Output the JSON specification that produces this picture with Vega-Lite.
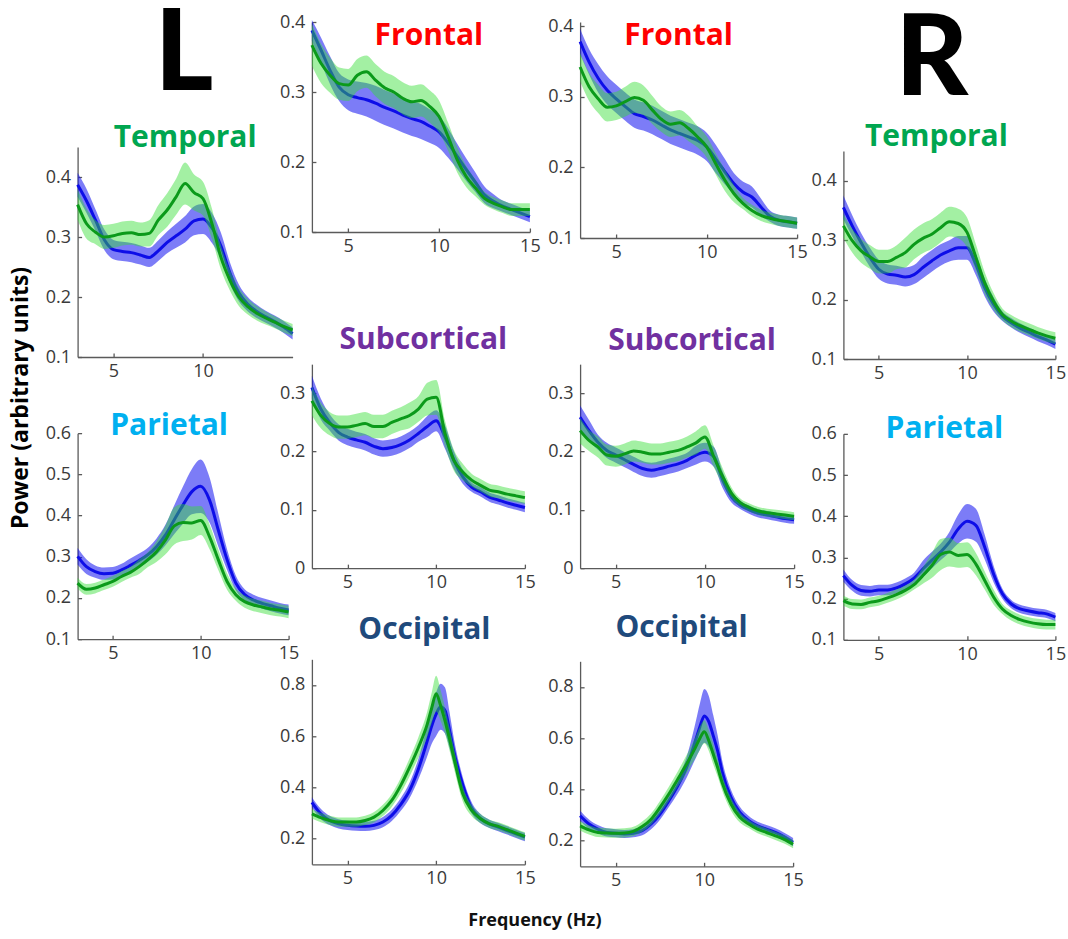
{
"$schema":"https://vega.github.io/schema/vega-lite/v6.json",
"background":"white",
"padding":{"left":6.1,"top":0,"right":0,"bottom":5},
"autosize":{"type":"pad"},
"title":{"text":"Frequency (Hz)","orient":"bottom","anchor":"middle","frame":"bounds","font":"Open Sans","fontSize":18,"fontWeight":"bold","color":"#111111","offset":36,"dx":-1,"baseline":"alphabetic"},
"config":{
 "view":{"stroke":null},
 "axis":{"grid":false,"domainColor":"#5a5a5a","domainWidth":1.3,"tickColor":"#5a5a5a","tickWidth":1.3,"tickSize":-4,"labelFont":"Open Sans","labelFontSize":18,"labelColor":"#3a3a3a"},
 "axisX":{"labelPadding":9.6},
 "axisY":{"labelPadding":11},
 "area":{"interpolate":"monotone"},
 "line":{"interpolate":"monotone","strokeWidth":3},
 "title":{"font":"Open Sans","fontSize":30,"fontWeight":"bold","anchor":"middle","frame":"group","baseline":"alphabetic"}
},
"datasets":{"d":[
{"p":"TL","g":"b","f":3,"m":0.387,"lo":0.367,"hi":0.407},
{"p":"TL","g":"b","f":3.5,"m":0.360,"lo":0.340,"hi":0.380},
{"p":"TL","g":"b","f":4,"m":0.328,"lo":0.310,"hi":0.346},
{"p":"TL","g":"b","f":4.5,"m":0.295,"lo":0.278,"hi":0.312},
{"p":"TL","g":"b","f":5,"m":0.279,"lo":0.263,"hi":0.295},
{"p":"TL","g":"b","f":5.5,"m":0.276,"lo":0.260,"hi":0.292},
{"p":"TL","g":"b","f":6,"m":0.274,"lo":0.258,"hi":0.290},
{"p":"TL","g":"b","f":6.5,"m":0.270,"lo":0.254,"hi":0.286},
{"p":"TL","g":"b","f":7,"m":0.266,"lo":0.250,"hi":0.282},
{"p":"TL","g":"b","f":7.5,"m":0.277,"lo":0.260,"hi":0.294},
{"p":"TL","g":"b","f":8,"m":0.291,"lo":0.273,"hi":0.309},
{"p":"TL","g":"b","f":8.5,"m":0.302,"lo":0.282,"hi":0.322},
{"p":"TL","g":"b","f":9,"m":0.313,"lo":0.291,"hi":0.335},
{"p":"TL","g":"b","f":9.5,"m":0.327,"lo":0.303,"hi":0.351},
{"p":"TL","g":"b","f":10,"m":0.330,"lo":0.305,"hi":0.355},
{"p":"TL","g":"b","f":10.5,"m":0.315,"lo":0.290,"hi":0.340},
{"p":"TL","g":"b","f":11,"m":0.285,"lo":0.263,"hi":0.307},
{"p":"TL","g":"b","f":11.5,"m":0.240,"lo":0.222,"hi":0.258},
{"p":"TL","g":"b","f":12,"m":0.207,"lo":0.193,"hi":0.221},
{"p":"TL","g":"b","f":12.5,"m":0.188,"lo":0.176,"hi":0.200},
{"p":"TL","g":"b","f":13,"m":0.176,"lo":0.165,"hi":0.187},
{"p":"TL","g":"b","f":13.5,"m":0.167,"lo":0.157,"hi":0.177},
{"p":"TL","g":"b","f":14,"m":0.159,"lo":0.149,"hi":0.169},
{"p":"TL","g":"b","f":14.5,"m":0.150,"lo":0.140,"hi":0.160},
{"p":"TL","g":"b","f":15,"m":0.139,"lo":0.129,"hi":0.149},
{"p":"TL","g":"g","f":3,"m":0.354,"lo":0.329,"hi":0.379},
{"p":"TL","g":"g","f":3.5,"m":0.322,"lo":0.297,"hi":0.347},
{"p":"TL","g":"g","f":4,"m":0.308,"lo":0.288,"hi":0.328},
{"p":"TL","g":"g","f":4.5,"m":0.300,"lo":0.280,"hi":0.320},
{"p":"TL","g":"g","f":5,"m":0.302,"lo":0.282,"hi":0.322},
{"p":"TL","g":"g","f":5.5,"m":0.306,"lo":0.286,"hi":0.326},
{"p":"TL","g":"g","f":6,"m":0.307,"lo":0.287,"hi":0.327},
{"p":"TL","g":"g","f":6.5,"m":0.304,"lo":0.284,"hi":0.324},
{"p":"TL","g":"g","f":7,"m":0.306,"lo":0.284,"hi":0.328},
{"p":"TL","g":"g","f":7.5,"m":0.328,"lo":0.303,"hi":0.353},
{"p":"TL","g":"g","f":8,"m":0.345,"lo":0.317,"hi":0.373},
{"p":"TL","g":"g","f":8.5,"m":0.367,"lo":0.337,"hi":0.397},
{"p":"TL","g":"g","f":9,"m":0.389,"lo":0.354,"hi":0.424},
{"p":"TL","g":"g","f":9.5,"m":0.374,"lo":0.344,"hi":0.404},
{"p":"TL","g":"g","f":10,"m":0.364,"lo":0.336,"hi":0.392},
{"p":"TL","g":"g","f":10.5,"m":0.322,"lo":0.297,"hi":0.347},
{"p":"TL","g":"g","f":11,"m":0.266,"lo":0.246,"hi":0.286},
{"p":"TL","g":"g","f":11.5,"m":0.228,"lo":0.211,"hi":0.245},
{"p":"TL","g":"g","f":12,"m":0.200,"lo":0.185,"hi":0.215},
{"p":"TL","g":"g","f":12.5,"m":0.184,"lo":0.171,"hi":0.197},
{"p":"TL","g":"g","f":13,"m":0.173,"lo":0.161,"hi":0.185},
{"p":"TL","g":"g","f":13.5,"m":0.165,"lo":0.154,"hi":0.176},
{"p":"TL","g":"g","f":14,"m":0.158,"lo":0.148,"hi":0.168},
{"p":"TL","g":"g","f":14.5,"m":0.151,"lo":0.141,"hi":0.161},
{"p":"TL","g":"g","f":15,"m":0.145,"lo":0.135,"hi":0.155},
{"p":"FL","g":"b","f":3,"m":0.388,"lo":0.373,"hi":0.403},
{"p":"FL","g":"b","f":3.5,"m":0.360,"lo":0.342,"hi":0.378},
{"p":"FL","g":"b","f":4,"m":0.331,"lo":0.311,"hi":0.351},
{"p":"FL","g":"b","f":4.5,"m":0.307,"lo":0.287,"hi":0.327},
{"p":"FL","g":"b","f":5,"m":0.296,"lo":0.274,"hi":0.318},
{"p":"FL","g":"b","f":5.5,"m":0.292,"lo":0.269,"hi":0.315},
{"p":"FL","g":"b","f":6,"m":0.289,"lo":0.265,"hi":0.313},
{"p":"FL","g":"b","f":6.5,"m":0.284,"lo":0.259,"hi":0.309},
{"p":"FL","g":"b","f":7,"m":0.278,"lo":0.253,"hi":0.303},
{"p":"FL","g":"b","f":7.5,"m":0.273,"lo":0.248,"hi":0.298},
{"p":"FL","g":"b","f":8,"m":0.267,"lo":0.242,"hi":0.292},
{"p":"FL","g":"b","f":8.5,"m":0.262,"lo":0.237,"hi":0.287},
{"p":"FL","g":"b","f":9,"m":0.258,"lo":0.233,"hi":0.283},
{"p":"FL","g":"b","f":9.5,"m":0.251,"lo":0.227,"hi":0.275},
{"p":"FL","g":"b","f":10,"m":0.243,"lo":0.220,"hi":0.266},
{"p":"FL","g":"b","f":10.5,"m":0.227,"lo":0.206,"hi":0.248},
{"p":"FL","g":"b","f":11,"m":0.208,"lo":0.190,"hi":0.226},
{"p":"FL","g":"b","f":11.5,"m":0.189,"lo":0.173,"hi":0.205},
{"p":"FL","g":"b","f":12,"m":0.171,"lo":0.157,"hi":0.185},
{"p":"FL","g":"b","f":12.5,"m":0.153,"lo":0.141,"hi":0.165},
{"p":"FL","g":"b","f":13,"m":0.144,"lo":0.134,"hi":0.154},
{"p":"FL","g":"b","f":13.5,"m":0.137,"lo":0.129,"hi":0.145},
{"p":"FL","g":"b","f":14,"m":0.132,"lo":0.124,"hi":0.140},
{"p":"FL","g":"b","f":14.5,"m":0.127,"lo":0.119,"hi":0.135},
{"p":"FL","g":"b","f":15,"m":0.122,"lo":0.114,"hi":0.130},
{"p":"FL","g":"g","f":3,"m":0.367,"lo":0.337,"hi":0.397},
{"p":"FL","g":"g","f":3.5,"m":0.341,"lo":0.313,"hi":0.369},
{"p":"FL","g":"g","f":4,"m":0.324,"lo":0.299,"hi":0.349},
{"p":"FL","g":"g","f":4.5,"m":0.312,"lo":0.289,"hi":0.335},
{"p":"FL","g":"g","f":5,"m":0.310,"lo":0.287,"hi":0.333},
{"p":"FL","g":"g","f":5.5,"m":0.324,"lo":0.301,"hi":0.347},
{"p":"FL","g":"g","f":6,"m":0.329,"lo":0.306,"hi":0.352},
{"p":"FL","g":"g","f":6.5,"m":0.317,"lo":0.294,"hi":0.340},
{"p":"FL","g":"g","f":7,"m":0.306,"lo":0.283,"hi":0.329},
{"p":"FL","g":"g","f":7.5,"m":0.300,"lo":0.277,"hi":0.323},
{"p":"FL","g":"g","f":8,"m":0.291,"lo":0.268,"hi":0.314},
{"p":"FL","g":"g","f":8.5,"m":0.286,"lo":0.263,"hi":0.309},
{"p":"FL","g":"g","f":9,"m":0.288,"lo":0.265,"hi":0.311},
{"p":"FL","g":"g","f":9.5,"m":0.279,"lo":0.256,"hi":0.302},
{"p":"FL","g":"g","f":10,"m":0.265,"lo":0.242,"hi":0.288},
{"p":"FL","g":"g","f":10.5,"m":0.236,"lo":0.216,"hi":0.256},
{"p":"FL","g":"g","f":11,"m":0.203,"lo":0.185,"hi":0.221},
{"p":"FL","g":"g","f":11.5,"m":0.179,"lo":0.164,"hi":0.194},
{"p":"FL","g":"g","f":12,"m":0.163,"lo":0.151,"hi":0.175},
{"p":"FL","g":"g","f":12.5,"m":0.148,"lo":0.139,"hi":0.157},
{"p":"FL","g":"g","f":13,"m":0.141,"lo":0.132,"hi":0.150},
{"p":"FL","g":"g","f":13.5,"m":0.136,"lo":0.127,"hi":0.145},
{"p":"FL","g":"g","f":14,"m":0.132,"lo":0.123,"hi":0.141},
{"p":"FL","g":"g","f":14.5,"m":0.132,"lo":0.123,"hi":0.141},
{"p":"FL","g":"g","f":15,"m":0.132,"lo":0.123,"hi":0.141},
{"p":"FR","g":"b","f":3,"m":0.378,"lo":0.360,"hi":0.396},
{"p":"FR","g":"b","f":3.5,"m":0.349,"lo":0.331,"hi":0.367},
{"p":"FR","g":"b","f":4,"m":0.326,"lo":0.306,"hi":0.346},
{"p":"FR","g":"b","f":4.5,"m":0.309,"lo":0.289,"hi":0.329},
{"p":"FR","g":"b","f":5,"m":0.297,"lo":0.277,"hi":0.317},
{"p":"FR","g":"b","f":5.5,"m":0.286,"lo":0.266,"hi":0.306},
{"p":"FR","g":"b","f":6,"m":0.276,"lo":0.256,"hi":0.296},
{"p":"FR","g":"b","f":6.5,"m":0.272,"lo":0.252,"hi":0.292},
{"p":"FR","g":"b","f":7,"m":0.267,"lo":0.247,"hi":0.287},
{"p":"FR","g":"b","f":7.5,"m":0.260,"lo":0.240,"hi":0.280},
{"p":"FR","g":"b","f":8,"m":0.253,"lo":0.233,"hi":0.273},
{"p":"FR","g":"b","f":8.5,"m":0.248,"lo":0.228,"hi":0.268},
{"p":"FR","g":"b","f":9,"m":0.243,"lo":0.223,"hi":0.263},
{"p":"FR","g":"b","f":9.5,"m":0.238,"lo":0.218,"hi":0.258},
{"p":"FR","g":"b","f":10,"m":0.229,"lo":0.209,"hi":0.249},
{"p":"FR","g":"b","f":10.5,"m":0.212,"lo":0.192,"hi":0.232},
{"p":"FR","g":"b","f":11,"m":0.194,"lo":0.176,"hi":0.212},
{"p":"FR","g":"b","f":11.5,"m":0.177,"lo":0.162,"hi":0.192},
{"p":"FR","g":"b","f":12,"m":0.165,"lo":0.150,"hi":0.180},
{"p":"FR","g":"b","f":12.5,"m":0.158,"lo":0.143,"hi":0.173},
{"p":"FR","g":"b","f":13,"m":0.144,"lo":0.132,"hi":0.156},
{"p":"FR","g":"b","f":13.5,"m":0.131,"lo":0.123,"hi":0.139},
{"p":"FR","g":"b","f":14,"m":0.125,"lo":0.117,"hi":0.133},
{"p":"FR","g":"b","f":14.5,"m":0.123,"lo":0.115,"hi":0.131},
{"p":"FR","g":"b","f":15,"m":0.121,"lo":0.113,"hi":0.129},
{"p":"FR","g":"g","f":3,"m":0.342,"lo":0.322,"hi":0.362},
{"p":"FR","g":"g","f":3.5,"m":0.314,"lo":0.294,"hi":0.334},
{"p":"FR","g":"g","f":4,"m":0.297,"lo":0.277,"hi":0.317},
{"p":"FR","g":"g","f":4.5,"m":0.285,"lo":0.265,"hi":0.305},
{"p":"FR","g":"g","f":5,"m":0.287,"lo":0.267,"hi":0.307},
{"p":"FR","g":"g","f":5.5,"m":0.293,"lo":0.272,"hi":0.314},
{"p":"FR","g":"g","f":6,"m":0.299,"lo":0.277,"hi":0.321},
{"p":"FR","g":"g","f":6.5,"m":0.295,"lo":0.274,"hi":0.316},
{"p":"FR","g":"g","f":7,"m":0.281,"lo":0.261,"hi":0.301},
{"p":"FR","g":"g","f":7.5,"m":0.268,"lo":0.250,"hi":0.286},
{"p":"FR","g":"g","f":8,"m":0.261,"lo":0.243,"hi":0.279},
{"p":"FR","g":"g","f":8.5,"m":0.263,"lo":0.245,"hi":0.281},
{"p":"FR","g":"g","f":9,"m":0.255,"lo":0.237,"hi":0.273},
{"p":"FR","g":"g","f":9.5,"m":0.243,"lo":0.228,"hi":0.258},
{"p":"FR","g":"g","f":10,"m":0.229,"lo":0.214,"hi":0.244},
{"p":"FR","g":"g","f":10.5,"m":0.205,"lo":0.190,"hi":0.220},
{"p":"FR","g":"g","f":11,"m":0.182,"lo":0.167,"hi":0.197},
{"p":"FR","g":"g","f":11.5,"m":0.163,"lo":0.151,"hi":0.175},
{"p":"FR","g":"g","f":12,"m":0.149,"lo":0.141,"hi":0.157},
{"p":"FR","g":"g","f":12.5,"m":0.139,"lo":0.131,"hi":0.147},
{"p":"FR","g":"g","f":13,"m":0.132,"lo":0.124,"hi":0.140},
{"p":"FR","g":"g","f":13.5,"m":0.128,"lo":0.120,"hi":0.136},
{"p":"FR","g":"g","f":14,"m":0.125,"lo":0.117,"hi":0.133},
{"p":"FR","g":"g","f":14.5,"m":0.123,"lo":0.115,"hi":0.131},
{"p":"FR","g":"g","f":15,"m":0.121,"lo":0.113,"hi":0.129},
{"p":"TR","g":"b","f":3,"m":0.355,"lo":0.335,"hi":0.375},
{"p":"TR","g":"b","f":3.5,"m":0.324,"lo":0.306,"hi":0.342},
{"p":"TR","g":"b","f":4,"m":0.296,"lo":0.280,"hi":0.312},
{"p":"TR","g":"b","f":4.5,"m":0.271,"lo":0.255,"hi":0.287},
{"p":"TR","g":"b","f":5,"m":0.251,"lo":0.235,"hi":0.267},
{"p":"TR","g":"b","f":5.5,"m":0.243,"lo":0.227,"hi":0.259},
{"p":"TR","g":"b","f":6,"m":0.241,"lo":0.225,"hi":0.257},
{"p":"TR","g":"b","f":6.5,"m":0.238,"lo":0.222,"hi":0.254},
{"p":"TR","g":"b","f":7,"m":0.242,"lo":0.226,"hi":0.258},
{"p":"TR","g":"b","f":7.5,"m":0.254,"lo":0.236,"hi":0.272},
{"p":"TR","g":"b","f":8,"m":0.265,"lo":0.247,"hi":0.283},
{"p":"TR","g":"b","f":8.5,"m":0.275,"lo":0.257,"hi":0.293},
{"p":"TR","g":"b","f":9,"m":0.282,"lo":0.264,"hi":0.300},
{"p":"TR","g":"b","f":9.5,"m":0.287,"lo":0.267,"hi":0.307},
{"p":"TR","g":"b","f":10,"m":0.287,"lo":0.267,"hi":0.307},
{"p":"TR","g":"b","f":10.5,"m":0.259,"lo":0.241,"hi":0.277},
{"p":"TR","g":"b","f":11,"m":0.220,"lo":0.205,"hi":0.235},
{"p":"TR","g":"b","f":11.5,"m":0.192,"lo":0.180,"hi":0.204},
{"p":"TR","g":"b","f":12,"m":0.172,"lo":0.164,"hi":0.180},
{"p":"TR","g":"b","f":12.5,"m":0.161,"lo":0.153,"hi":0.169},
{"p":"TR","g":"b","f":13,"m":0.152,"lo":0.144,"hi":0.160},
{"p":"TR","g":"b","f":13.5,"m":0.145,"lo":0.137,"hi":0.153},
{"p":"TR","g":"b","f":14,"m":0.138,"lo":0.130,"hi":0.146},
{"p":"TR","g":"b","f":14.5,"m":0.132,"lo":0.124,"hi":0.140},
{"p":"TR","g":"b","f":15,"m":0.125,"lo":0.117,"hi":0.133},
{"p":"TR","g":"g","f":3,"m":0.324,"lo":0.304,"hi":0.344},
{"p":"TR","g":"g","f":3.5,"m":0.299,"lo":0.279,"hi":0.319},
{"p":"TR","g":"g","f":4,"m":0.282,"lo":0.262,"hi":0.302},
{"p":"TR","g":"g","f":4.5,"m":0.272,"lo":0.252,"hi":0.292},
{"p":"TR","g":"g","f":5,"m":0.264,"lo":0.244,"hi":0.284},
{"p":"TR","g":"g","f":5.5,"m":0.264,"lo":0.244,"hi":0.284},
{"p":"TR","g":"g","f":6,"m":0.271,"lo":0.251,"hi":0.291},
{"p":"TR","g":"g","f":6.5,"m":0.279,"lo":0.254,"hi":0.304},
{"p":"TR","g":"g","f":7,"m":0.293,"lo":0.268,"hi":0.318},
{"p":"TR","g":"g","f":7.5,"m":0.303,"lo":0.278,"hi":0.328},
{"p":"TR","g":"g","f":8,"m":0.310,"lo":0.285,"hi":0.335},
{"p":"TR","g":"g","f":8.5,"m":0.321,"lo":0.296,"hi":0.346},
{"p":"TR","g":"g","f":9,"m":0.331,"lo":0.306,"hi":0.356},
{"p":"TR","g":"g","f":9.5,"m":0.328,"lo":0.303,"hi":0.353},
{"p":"TR","g":"g","f":10,"m":0.313,"lo":0.288,"hi":0.338},
{"p":"TR","g":"g","f":10.5,"m":0.271,"lo":0.249,"hi":0.293},
{"p":"TR","g":"g","f":11,"m":0.228,"lo":0.210,"hi":0.246},
{"p":"TR","g":"g","f":11.5,"m":0.197,"lo":0.183,"hi":0.211},
{"p":"TR","g":"g","f":12,"m":0.175,"lo":0.165,"hi":0.185},
{"p":"TR","g":"g","f":12.5,"m":0.164,"lo":0.154,"hi":0.174},
{"p":"TR","g":"g","f":13,"m":0.156,"lo":0.146,"hi":0.166},
{"p":"TR","g":"g","f":13.5,"m":0.150,"lo":0.140,"hi":0.160},
{"p":"TR","g":"g","f":14,"m":0.144,"lo":0.134,"hi":0.154},
{"p":"TR","g":"g","f":14.5,"m":0.139,"lo":0.129,"hi":0.149},
{"p":"TR","g":"g","f":15,"m":0.135,"lo":0.125,"hi":0.145},
{"p":"PL","g":"b","f":3,"m":0.301,"lo":0.281,"hi":0.321},
{"p":"PL","g":"b","f":3.5,"m":0.276,"lo":0.258,"hi":0.294},
{"p":"PL","g":"b","f":4,"m":0.264,"lo":0.249,"hi":0.279},
{"p":"PL","g":"b","f":4.5,"m":0.259,"lo":0.244,"hi":0.274},
{"p":"PL","g":"b","f":5,"m":0.260,"lo":0.245,"hi":0.275},
{"p":"PL","g":"b","f":5.5,"m":0.268,"lo":0.253,"hi":0.283},
{"p":"PL","g":"b","f":6,"m":0.279,"lo":0.262,"hi":0.296},
{"p":"PL","g":"b","f":6.5,"m":0.291,"lo":0.274,"hi":0.308},
{"p":"PL","g":"b","f":7,"m":0.305,"lo":0.288,"hi":0.322},
{"p":"PL","g":"b","f":7.5,"m":0.325,"lo":0.305,"hi":0.345},
{"p":"PL","g":"b","f":8,"m":0.353,"lo":0.328,"hi":0.378},
{"p":"PL","g":"b","f":8.5,"m":0.390,"lo":0.355,"hi":0.425},
{"p":"PL","g":"b","f":9,"m":0.426,"lo":0.381,"hi":0.471},
{"p":"PL","g":"b","f":9.5,"m":0.458,"lo":0.403,"hi":0.513},
{"p":"PL","g":"b","f":10,"m":0.471,"lo":0.406,"hi":0.536},
{"p":"PL","g":"b","f":10.5,"m":0.438,"lo":0.383,"hi":0.493},
{"p":"PL","g":"b","f":11,"m":0.365,"lo":0.325,"hi":0.405},
{"p":"PL","g":"b","f":11.5,"m":0.293,"lo":0.268,"hi":0.318},
{"p":"PL","g":"b","f":12,"m":0.236,"lo":0.218,"hi":0.254},
{"p":"PL","g":"b","f":12.5,"m":0.208,"lo":0.195,"hi":0.221},
{"p":"PL","g":"b","f":13,"m":0.195,"lo":0.182,"hi":0.208},
{"p":"PL","g":"b","f":13.5,"m":0.187,"lo":0.174,"hi":0.200},
{"p":"PL","g":"b","f":14,"m":0.181,"lo":0.168,"hi":0.194},
{"p":"PL","g":"b","f":14.5,"m":0.175,"lo":0.162,"hi":0.188},
{"p":"PL","g":"b","f":15,"m":0.171,"lo":0.158,"hi":0.184},
{"p":"PL","g":"g","f":3,"m":0.236,"lo":0.223,"hi":0.249},
{"p":"PL","g":"g","f":3.5,"m":0.221,"lo":0.208,"hi":0.234},
{"p":"PL","g":"g","f":4,"m":0.224,"lo":0.211,"hi":0.237},
{"p":"PL","g":"g","f":4.5,"m":0.232,"lo":0.219,"hi":0.245},
{"p":"PL","g":"g","f":5,"m":0.240,"lo":0.227,"hi":0.253},
{"p":"PL","g":"g","f":5.5,"m":0.252,"lo":0.239,"hi":0.265},
{"p":"PL","g":"g","f":6,"m":0.262,"lo":0.249,"hi":0.275},
{"p":"PL","g":"g","f":6.5,"m":0.276,"lo":0.258,"hi":0.294},
{"p":"PL","g":"g","f":7,"m":0.293,"lo":0.275,"hi":0.311},
{"p":"PL","g":"g","f":7.5,"m":0.313,"lo":0.288,"hi":0.338},
{"p":"PL","g":"g","f":8,"m":0.341,"lo":0.306,"hi":0.376},
{"p":"PL","g":"g","f":8.5,"m":0.375,"lo":0.330,"hi":0.420},
{"p":"PL","g":"g","f":9,"m":0.383,"lo":0.338,"hi":0.428},
{"p":"PL","g":"g","f":9.5,"m":0.382,"lo":0.342,"hi":0.422},
{"p":"PL","g":"g","f":10,"m":0.388,"lo":0.353,"hi":0.423},
{"p":"PL","g":"g","f":10.5,"m":0.349,"lo":0.319,"hi":0.379},
{"p":"PL","g":"g","f":11,"m":0.293,"lo":0.268,"hi":0.318},
{"p":"PL","g":"g","f":11.5,"m":0.240,"lo":0.220,"hi":0.260},
{"p":"PL","g":"g","f":12,"m":0.208,"lo":0.193,"hi":0.223},
{"p":"PL","g":"g","f":12.5,"m":0.191,"lo":0.176,"hi":0.206},
{"p":"PL","g":"g","f":13,"m":0.183,"lo":0.168,"hi":0.198},
{"p":"PL","g":"g","f":13.5,"m":0.178,"lo":0.163,"hi":0.193},
{"p":"PL","g":"g","f":14,"m":0.173,"lo":0.158,"hi":0.188},
{"p":"PL","g":"g","f":14.5,"m":0.170,"lo":0.155,"hi":0.185},
{"p":"PL","g":"g","f":15,"m":0.166,"lo":0.151,"hi":0.181},
{"p":"PR","g":"b","f":3,"m":0.256,"lo":0.241,"hi":0.271},
{"p":"PR","g":"b","f":3.5,"m":0.232,"lo":0.219,"hi":0.245},
{"p":"PR","g":"b","f":4,"m":0.220,"lo":0.207,"hi":0.233},
{"p":"PR","g":"b","f":4.5,"m":0.218,"lo":0.205,"hi":0.231},
{"p":"PR","g":"b","f":5,"m":0.221,"lo":0.208,"hi":0.234},
{"p":"PR","g":"b","f":5.5,"m":0.221,"lo":0.208,"hi":0.234},
{"p":"PR","g":"b","f":6,"m":0.226,"lo":0.213,"hi":0.239},
{"p":"PR","g":"b","f":6.5,"m":0.236,"lo":0.223,"hi":0.249},
{"p":"PR","g":"b","f":7,"m":0.250,"lo":0.237,"hi":0.263},
{"p":"PR","g":"b","f":7.5,"m":0.272,"lo":0.252,"hi":0.292},
{"p":"PR","g":"b","f":8,"m":0.293,"lo":0.273,"hi":0.313},
{"p":"PR","g":"b","f":8.5,"m":0.313,"lo":0.293,"hi":0.333},
{"p":"PR","g":"b","f":9,"m":0.337,"lo":0.312,"hi":0.362},
{"p":"PR","g":"b","f":9.5,"m":0.369,"lo":0.334,"hi":0.404},
{"p":"PR","g":"b","f":10,"m":0.388,"lo":0.346,"hi":0.430},
{"p":"PR","g":"b","f":10.5,"m":0.378,"lo":0.338,"hi":0.418},
{"p":"PR","g":"b","f":11,"m":0.325,"lo":0.295,"hi":0.355},
{"p":"PR","g":"b","f":11.5,"m":0.260,"lo":0.240,"hi":0.280},
{"p":"PR","g":"b","f":12,"m":0.212,"lo":0.200,"hi":0.224},
{"p":"PR","g":"b","f":12.5,"m":0.187,"lo":0.177,"hi":0.197},
{"p":"PR","g":"b","f":13,"m":0.175,"lo":0.165,"hi":0.185},
{"p":"PR","g":"b","f":13.5,"m":0.170,"lo":0.160,"hi":0.180},
{"p":"PR","g":"b","f":14,"m":0.166,"lo":0.156,"hi":0.176},
{"p":"PR","g":"b","f":14.5,"m":0.163,"lo":0.153,"hi":0.173},
{"p":"PR","g":"b","f":15,"m":0.155,"lo":0.145,"hi":0.165},
{"p":"PR","g":"g","f":3,"m":0.195,"lo":0.183,"hi":0.207},
{"p":"PR","g":"g","f":3.5,"m":0.187,"lo":0.175,"hi":0.199},
{"p":"PR","g":"g","f":4,"m":0.186,"lo":0.174,"hi":0.198},
{"p":"PR","g":"g","f":4.5,"m":0.191,"lo":0.179,"hi":0.203},
{"p":"PR","g":"g","f":5,"m":0.195,"lo":0.183,"hi":0.207},
{"p":"PR","g":"g","f":5.5,"m":0.202,"lo":0.190,"hi":0.214},
{"p":"PR","g":"g","f":6,"m":0.210,"lo":0.198,"hi":0.222},
{"p":"PR","g":"g","f":6.5,"m":0.220,"lo":0.208,"hi":0.232},
{"p":"PR","g":"g","f":7,"m":0.234,"lo":0.222,"hi":0.246},
{"p":"PR","g":"g","f":7.5,"m":0.256,"lo":0.236,"hi":0.276},
{"p":"PR","g":"g","f":8,"m":0.280,"lo":0.250,"hi":0.310},
{"p":"PR","g":"g","f":8.5,"m":0.307,"lo":0.269,"hi":0.345},
{"p":"PR","g":"g","f":9,"m":0.313,"lo":0.278,"hi":0.348},
{"p":"PR","g":"g","f":9.5,"m":0.305,"lo":0.275,"hi":0.335},
{"p":"PR","g":"g","f":10,"m":0.307,"lo":0.277,"hi":0.337},
{"p":"PR","g":"g","f":10.5,"m":0.284,"lo":0.257,"hi":0.311},
{"p":"PR","g":"g","f":11,"m":0.244,"lo":0.222,"hi":0.266},
{"p":"PR","g":"g","f":11.5,"m":0.204,"lo":0.186,"hi":0.222},
{"p":"PR","g":"g","f":12,"m":0.175,"lo":0.163,"hi":0.187},
{"p":"PR","g":"g","f":12.5,"m":0.159,"lo":0.147,"hi":0.171},
{"p":"PR","g":"g","f":13,"m":0.149,"lo":0.137,"hi":0.161},
{"p":"PR","g":"g","f":13.5,"m":0.143,"lo":0.131,"hi":0.155},
{"p":"PR","g":"g","f":14,"m":0.139,"lo":0.127,"hi":0.151},
{"p":"PR","g":"g","f":14.5,"m":0.137,"lo":0.125,"hi":0.149},
{"p":"PR","g":"g","f":15,"m":0.137,"lo":0.125,"hi":0.149},
{"p":"SL","g":"b","f":3,"m":0.310,"lo":0.290,"hi":0.330},
{"p":"SL","g":"b","f":3.5,"m":0.273,"lo":0.255,"hi":0.291},
{"p":"SL","g":"b","f":4,"m":0.250,"lo":0.236,"hi":0.264},
{"p":"SL","g":"b","f":4.5,"m":0.233,"lo":0.219,"hi":0.247},
{"p":"SL","g":"b","f":5,"m":0.225,"lo":0.211,"hi":0.239},
{"p":"SL","g":"b","f":5.5,"m":0.220,"lo":0.206,"hi":0.234},
{"p":"SL","g":"b","f":6,"m":0.216,"lo":0.202,"hi":0.230},
{"p":"SL","g":"b","f":6.5,"m":0.209,"lo":0.195,"hi":0.223},
{"p":"SL","g":"b","f":7,"m":0.205,"lo":0.191,"hi":0.219},
{"p":"SL","g":"b","f":7.5,"m":0.207,"lo":0.193,"hi":0.221},
{"p":"SL","g":"b","f":8,"m":0.212,"lo":0.198,"hi":0.226},
{"p":"SL","g":"b","f":8.5,"m":0.220,"lo":0.206,"hi":0.234},
{"p":"SL","g":"b","f":9,"m":0.231,"lo":0.217,"hi":0.245},
{"p":"SL","g":"b","f":9.5,"m":0.243,"lo":0.225,"hi":0.261},
{"p":"SL","g":"b","f":10,"m":0.253,"lo":0.235,"hi":0.271},
{"p":"SL","g":"b","f":10.5,"m":0.225,"lo":0.205,"hi":0.245},
{"p":"SL","g":"b","f":11,"m":0.185,"lo":0.170,"hi":0.200},
{"p":"SL","g":"b","f":11.5,"m":0.157,"lo":0.145,"hi":0.169},
{"p":"SL","g":"b","f":12,"m":0.139,"lo":0.131,"hi":0.147},
{"p":"SL","g":"b","f":12.5,"m":0.131,"lo":0.123,"hi":0.139},
{"p":"SL","g":"b","f":13,"m":0.122,"lo":0.114,"hi":0.130},
{"p":"SL","g":"b","f":13.5,"m":0.117,"lo":0.109,"hi":0.125},
{"p":"SL","g":"b","f":14,"m":0.112,"lo":0.104,"hi":0.120},
{"p":"SL","g":"b","f":14.5,"m":0.108,"lo":0.100,"hi":0.116},
{"p":"SL","g":"b","f":15,"m":0.104,"lo":0.096,"hi":0.112},
{"p":"SL","g":"g","f":3,"m":0.287,"lo":0.262,"hi":0.312},
{"p":"SL","g":"g","f":3.5,"m":0.262,"lo":0.240,"hi":0.284},
{"p":"SL","g":"g","f":4,"m":0.248,"lo":0.228,"hi":0.268},
{"p":"SL","g":"g","f":4.5,"m":0.242,"lo":0.222,"hi":0.262},
{"p":"SL","g":"g","f":5,"m":0.242,"lo":0.222,"hi":0.262},
{"p":"SL","g":"g","f":5.5,"m":0.245,"lo":0.225,"hi":0.265},
{"p":"SL","g":"g","f":6,"m":0.248,"lo":0.228,"hi":0.268},
{"p":"SL","g":"g","f":6.5,"m":0.243,"lo":0.223,"hi":0.263},
{"p":"SL","g":"g","f":7,"m":0.243,"lo":0.223,"hi":0.263},
{"p":"SL","g":"g","f":7.5,"m":0.250,"lo":0.230,"hi":0.270},
{"p":"SL","g":"g","f":8,"m":0.256,"lo":0.236,"hi":0.276},
{"p":"SL","g":"g","f":8.5,"m":0.262,"lo":0.240,"hi":0.284},
{"p":"SL","g":"g","f":9,"m":0.273,"lo":0.251,"hi":0.295},
{"p":"SL","g":"g","f":9.5,"m":0.290,"lo":0.262,"hi":0.318},
{"p":"SL","g":"g","f":10,"m":0.293,"lo":0.263,"hi":0.323},
{"p":"SL","g":"g","f":10.5,"m":0.231,"lo":0.209,"hi":0.253},
{"p":"SL","g":"g","f":11,"m":0.185,"lo":0.167,"hi":0.203},
{"p":"SL","g":"g","f":11.5,"m":0.165,"lo":0.151,"hi":0.179},
{"p":"SL","g":"g","f":12,"m":0.151,"lo":0.140,"hi":0.162},
{"p":"SL","g":"g","f":12.5,"m":0.142,"lo":0.131,"hi":0.153},
{"p":"SL","g":"g","f":13,"m":0.134,"lo":0.123,"hi":0.145},
{"p":"SL","g":"g","f":13.5,"m":0.131,"lo":0.120,"hi":0.142},
{"p":"SL","g":"g","f":14,"m":0.127,"lo":0.116,"hi":0.138},
{"p":"SL","g":"g","f":14.5,"m":0.124,"lo":0.113,"hi":0.135},
{"p":"SL","g":"g","f":15,"m":0.121,"lo":0.110,"hi":0.132},
{"p":"SR","g":"b","f":3,"m":0.259,"lo":0.239,"hi":0.279},
{"p":"SR","g":"b","f":3.5,"m":0.236,"lo":0.218,"hi":0.254},
{"p":"SR","g":"b","f":4,"m":0.216,"lo":0.203,"hi":0.229},
{"p":"SR","g":"b","f":4.5,"m":0.202,"lo":0.189,"hi":0.215},
{"p":"SR","g":"b","f":5,"m":0.194,"lo":0.181,"hi":0.207},
{"p":"SR","g":"b","f":5.5,"m":0.186,"lo":0.173,"hi":0.199},
{"p":"SR","g":"b","f":6,"m":0.178,"lo":0.165,"hi":0.191},
{"p":"SR","g":"b","f":6.5,"m":0.171,"lo":0.158,"hi":0.184},
{"p":"SR","g":"b","f":7,"m":0.168,"lo":0.155,"hi":0.181},
{"p":"SR","g":"b","f":7.5,"m":0.171,"lo":0.158,"hi":0.184},
{"p":"SR","g":"b","f":8,"m":0.175,"lo":0.162,"hi":0.188},
{"p":"SR","g":"b","f":8.5,"m":0.179,"lo":0.166,"hi":0.192},
{"p":"SR","g":"b","f":9,"m":0.185,"lo":0.172,"hi":0.198},
{"p":"SR","g":"b","f":9.5,"m":0.194,"lo":0.178,"hi":0.210},
{"p":"SR","g":"b","f":10,"m":0.199,"lo":0.183,"hi":0.215},
{"p":"SR","g":"b","f":10.5,"m":0.191,"lo":0.174,"hi":0.208},
{"p":"SR","g":"b","f":11,"m":0.151,"lo":0.137,"hi":0.165},
{"p":"SR","g":"b","f":11.5,"m":0.122,"lo":0.112,"hi":0.132},
{"p":"SR","g":"b","f":12,"m":0.108,"lo":0.101,"hi":0.115},
{"p":"SR","g":"b","f":12.5,"m":0.100,"lo":0.093,"hi":0.107},
{"p":"SR","g":"b","f":13,"m":0.094,"lo":0.087,"hi":0.101},
{"p":"SR","g":"b","f":13.5,"m":0.091,"lo":0.084,"hi":0.098},
{"p":"SR","g":"b","f":14,"m":0.088,"lo":0.081,"hi":0.095},
{"p":"SR","g":"b","f":14.5,"m":0.085,"lo":0.078,"hi":0.092},
{"p":"SR","g":"b","f":15,"m":0.083,"lo":0.076,"hi":0.090},
{"p":"SR","g":"g","f":3,"m":0.236,"lo":0.214,"hi":0.258},
{"p":"SR","g":"g","f":3.5,"m":0.219,"lo":0.201,"hi":0.237},
{"p":"SR","g":"g","f":4,"m":0.208,"lo":0.190,"hi":0.226},
{"p":"SR","g":"g","f":4.5,"m":0.194,"lo":0.176,"hi":0.212},
{"p":"SR","g":"g","f":5,"m":0.192,"lo":0.174,"hi":0.210},
{"p":"SR","g":"g","f":5.5,"m":0.196,"lo":0.178,"hi":0.214},
{"p":"SR","g":"g","f":6,"m":0.201,"lo":0.183,"hi":0.219},
{"p":"SR","g":"g","f":6.5,"m":0.199,"lo":0.181,"hi":0.217},
{"p":"SR","g":"g","f":7,"m":0.196,"lo":0.178,"hi":0.214},
{"p":"SR","g":"g","f":7.5,"m":0.196,"lo":0.178,"hi":0.214},
{"p":"SR","g":"g","f":8,"m":0.199,"lo":0.181,"hi":0.217},
{"p":"SR","g":"g","f":8.5,"m":0.202,"lo":0.184,"hi":0.220},
{"p":"SR","g":"g","f":9,"m":0.208,"lo":0.190,"hi":0.226},
{"p":"SR","g":"g","f":9.5,"m":0.215,"lo":0.195,"hi":0.235},
{"p":"SR","g":"g","f":10,"m":0.225,"lo":0.205,"hi":0.245},
{"p":"SR","g":"g","f":10.5,"m":0.191,"lo":0.173,"hi":0.209},
{"p":"SR","g":"g","f":11,"m":0.157,"lo":0.143,"hi":0.171},
{"p":"SR","g":"g","f":11.5,"m":0.128,"lo":0.118,"hi":0.138},
{"p":"SR","g":"g","f":12,"m":0.112,"lo":0.105,"hi":0.119},
{"p":"SR","g":"g","f":12.5,"m":0.104,"lo":0.097,"hi":0.111},
{"p":"SR","g":"g","f":13,"m":0.098,"lo":0.091,"hi":0.105},
{"p":"SR","g":"g","f":13.5,"m":0.095,"lo":0.088,"hi":0.102},
{"p":"SR","g":"g","f":14,"m":0.093,"lo":0.086,"hi":0.100},
{"p":"SR","g":"g","f":14.5,"m":0.091,"lo":0.084,"hi":0.098},
{"p":"SR","g":"g","f":15,"m":0.089,"lo":0.082,"hi":0.096},
{"p":"OL","g":"b","f":3,"m":0.342,"lo":0.322,"hi":0.362},
{"p":"OL","g":"b","f":3.5,"m":0.297,"lo":0.277,"hi":0.317},
{"p":"OL","g":"b","f":4,"m":0.271,"lo":0.253,"hi":0.289},
{"p":"OL","g":"b","f":4.5,"m":0.258,"lo":0.240,"hi":0.276},
{"p":"OL","g":"b","f":5,"m":0.252,"lo":0.234,"hi":0.270},
{"p":"OL","g":"b","f":5.5,"m":0.249,"lo":0.231,"hi":0.267},
{"p":"OL","g":"b","f":6,"m":0.248,"lo":0.230,"hi":0.266},
{"p":"OL","g":"b","f":6.5,"m":0.252,"lo":0.234,"hi":0.270},
{"p":"OL","g":"b","f":7,"m":0.265,"lo":0.245,"hi":0.285},
{"p":"OL","g":"b","f":7.5,"m":0.291,"lo":0.269,"hi":0.313},
{"p":"OL","g":"b","f":8,"m":0.333,"lo":0.308,"hi":0.358},
{"p":"OL","g":"b","f":8.5,"m":0.388,"lo":0.358,"hi":0.418},
{"p":"OL","g":"b","f":9,"m":0.472,"lo":0.432,"hi":0.512},
{"p":"OL","g":"b","f":9.5,"m":0.582,"lo":0.522,"hi":0.642},
{"p":"OL","g":"b","f":9.75,"m":0.640,"lo":0.570,"hi":0.710},
{"p":"OL","g":"b","f":10,"m":0.686,"lo":0.601,"hi":0.771},
{"p":"OL","g":"b","f":10.25,"m":0.715,"lo":0.625,"hi":0.805},
{"p":"OL","g":"b","f":10.5,"m":0.700,"lo":0.610,"hi":0.790},
{"p":"OL","g":"b","f":10.75,"m":0.625,"lo":0.555,"hi":0.695},
{"p":"OL","g":"b","f":11,"m":0.540,"lo":0.490,"hi":0.590},
{"p":"OL","g":"b","f":11.5,"m":0.410,"lo":0.380,"hi":0.440},
{"p":"OL","g":"b","f":12,"m":0.320,"lo":0.298,"hi":0.342},
{"p":"OL","g":"b","f":12.5,"m":0.278,"lo":0.260,"hi":0.296},
{"p":"OL","g":"b","f":13,"m":0.258,"lo":0.242,"hi":0.274},
{"p":"OL","g":"b","f":13.5,"m":0.245,"lo":0.229,"hi":0.261},
{"p":"OL","g":"b","f":14,"m":0.232,"lo":0.216,"hi":0.248},
{"p":"OL","g":"b","f":14.5,"m":0.219,"lo":0.203,"hi":0.235},
{"p":"OL","g":"b","f":15,"m":0.206,"lo":0.190,"hi":0.222},
{"p":"OL","g":"g","f":3,"m":0.297,"lo":0.279,"hi":0.315},
{"p":"OL","g":"g","f":3.5,"m":0.282,"lo":0.264,"hi":0.300},
{"p":"OL","g":"g","f":4,"m":0.271,"lo":0.253,"hi":0.289},
{"p":"OL","g":"g","f":4.5,"m":0.265,"lo":0.247,"hi":0.283},
{"p":"OL","g":"g","f":5,"m":0.265,"lo":0.247,"hi":0.283},
{"p":"OL","g":"g","f":5.5,"m":0.265,"lo":0.247,"hi":0.283},
{"p":"OL","g":"g","f":6,"m":0.271,"lo":0.253,"hi":0.289},
{"p":"OL","g":"g","f":6.5,"m":0.284,"lo":0.264,"hi":0.304},
{"p":"OL","g":"g","f":7,"m":0.310,"lo":0.288,"hi":0.332},
{"p":"OL","g":"g","f":7.5,"m":0.349,"lo":0.324,"hi":0.374},
{"p":"OL","g":"g","f":8,"m":0.407,"lo":0.377,"hi":0.437},
{"p":"OL","g":"g","f":8.5,"m":0.478,"lo":0.443,"hi":0.513},
{"p":"OL","g":"g","f":9,"m":0.556,"lo":0.516,"hi":0.596},
{"p":"OL","g":"g","f":9.5,"m":0.647,"lo":0.597,"hi":0.697},
{"p":"OL","g":"g","f":9.75,"m":0.710,"lo":0.650,"hi":0.770},
{"p":"OL","g":"g","f":10,"m":0.766,"lo":0.696,"hi":0.836},
{"p":"OL","g":"g","f":10.25,"m":0.720,"lo":0.660,"hi":0.780},
{"p":"OL","g":"g","f":10.5,"m":0.660,"lo":0.610,"hi":0.710},
{"p":"OL","g":"g","f":10.75,"m":0.590,"lo":0.545,"hi":0.635},
{"p":"OL","g":"g","f":11,"m":0.515,"lo":0.475,"hi":0.555},
{"p":"OL","g":"g","f":11.5,"m":0.375,"lo":0.345,"hi":0.405},
{"p":"OL","g":"g","f":12,"m":0.310,"lo":0.288,"hi":0.332},
{"p":"OL","g":"g","f":12.5,"m":0.278,"lo":0.260,"hi":0.296},
{"p":"OL","g":"g","f":13,"m":0.258,"lo":0.242,"hi":0.274},
{"p":"OL","g":"g","f":13.5,"m":0.248,"lo":0.232,"hi":0.264},
{"p":"OL","g":"g","f":14,"m":0.235,"lo":0.219,"hi":0.251},
{"p":"OL","g":"g","f":14.5,"m":0.222,"lo":0.206,"hi":0.238},
{"p":"OL","g":"g","f":15,"m":0.209,"lo":0.193,"hi":0.225},
{"p":"OR","g":"b","f":3,"m":0.297,"lo":0.277,"hi":0.317},
{"p":"OR","g":"b","f":3.5,"m":0.265,"lo":0.247,"hi":0.283},
{"p":"OR","g":"b","f":4,"m":0.245,"lo":0.229,"hi":0.261},
{"p":"OR","g":"b","f":4.5,"m":0.232,"lo":0.216,"hi":0.248},
{"p":"OR","g":"b","f":5,"m":0.229,"lo":0.213,"hi":0.245},
{"p":"OR","g":"b","f":5.5,"m":0.226,"lo":0.210,"hi":0.242},
{"p":"OR","g":"b","f":6,"m":0.229,"lo":0.213,"hi":0.245},
{"p":"OR","g":"b","f":6.5,"m":0.239,"lo":0.221,"hi":0.257},
{"p":"OR","g":"b","f":7,"m":0.265,"lo":0.245,"hi":0.285},
{"p":"OR","g":"b","f":7.5,"m":0.304,"lo":0.282,"hi":0.326},
{"p":"OR","g":"b","f":8,"m":0.356,"lo":0.331,"hi":0.381},
{"p":"OR","g":"b","f":8.5,"m":0.414,"lo":0.384,"hi":0.444},
{"p":"OR","g":"b","f":9,"m":0.486,"lo":0.446,"hi":0.526},
{"p":"OR","g":"b","f":9.5,"m":0.590,"lo":0.520,"hi":0.660},
{"p":"OR","g":"b","f":9.75,"m":0.645,"lo":0.555,"hi":0.735},
{"p":"OR","g":"b","f":10,"m":0.687,"lo":0.582,"hi":0.792},
{"p":"OR","g":"b","f":10.25,"m":0.665,"lo":0.565,"hi":0.765},
{"p":"OR","g":"b","f":10.5,"m":0.610,"lo":0.530,"hi":0.690},
{"p":"OR","g":"b","f":10.75,"m":0.550,"lo":0.490,"hi":0.610},
{"p":"OR","g":"b","f":11,"m":0.470,"lo":0.425,"hi":0.515},
{"p":"OR","g":"b","f":11.5,"m":0.369,"lo":0.339,"hi":0.399},
{"p":"OR","g":"b","f":12,"m":0.310,"lo":0.288,"hi":0.332},
{"p":"OR","g":"b","f":12.5,"m":0.278,"lo":0.260,"hi":0.296},
{"p":"OR","g":"b","f":13,"m":0.258,"lo":0.242,"hi":0.274},
{"p":"OR","g":"b","f":13.5,"m":0.245,"lo":0.229,"hi":0.261},
{"p":"OR","g":"b","f":14,"m":0.232,"lo":0.216,"hi":0.248},
{"p":"OR","g":"b","f":14.5,"m":0.215,"lo":0.199,"hi":0.231},
{"p":"OR","g":"b","f":15,"m":0.194,"lo":0.178,"hi":0.210},
{"p":"OR","g":"g","f":3,"m":0.258,"lo":0.240,"hi":0.276},
{"p":"OR","g":"g","f":3.5,"m":0.242,"lo":0.224,"hi":0.260},
{"p":"OR","g":"g","f":4,"m":0.232,"lo":0.214,"hi":0.250},
{"p":"OR","g":"g","f":4.5,"m":0.230,"lo":0.212,"hi":0.248},
{"p":"OR","g":"g","f":5,"m":0.229,"lo":0.211,"hi":0.247},
{"p":"OR","g":"g","f":5.5,"m":0.230,"lo":0.212,"hi":0.248},
{"p":"OR","g":"g","f":6,"m":0.236,"lo":0.218,"hi":0.254},
{"p":"OR","g":"g","f":6.5,"m":0.255,"lo":0.235,"hi":0.275},
{"p":"OR","g":"g","f":7,"m":0.284,"lo":0.262,"hi":0.306},
{"p":"OR","g":"g","f":7.5,"m":0.330,"lo":0.305,"hi":0.355},
{"p":"OR","g":"g","f":8,"m":0.382,"lo":0.354,"hi":0.410},
{"p":"OR","g":"g","f":8.5,"m":0.440,"lo":0.410,"hi":0.470},
{"p":"OR","g":"g","f":9,"m":0.499,"lo":0.464,"hi":0.534},
{"p":"OR","g":"g","f":9.5,"m":0.564,"lo":0.524,"hi":0.604},
{"p":"OR","g":"g","f":9.75,"m":0.600,"lo":0.555,"hi":0.645},
{"p":"OR","g":"g","f":10,"m":0.625,"lo":0.580,"hi":0.670},
{"p":"OR","g":"g","f":10.25,"m":0.590,"lo":0.550,"hi":0.630},
{"p":"OR","g":"g","f":10.5,"m":0.538,"lo":0.498,"hi":0.578},
{"p":"OR","g":"g","f":10.75,"m":0.485,"lo":0.450,"hi":0.520},
{"p":"OR","g":"g","f":11,"m":0.427,"lo":0.397,"hi":0.457},
{"p":"OR","g":"g","f":11.5,"m":0.343,"lo":0.318,"hi":0.368},
{"p":"OR","g":"g","f":12,"m":0.291,"lo":0.271,"hi":0.311},
{"p":"OR","g":"g","f":12.5,"m":0.265,"lo":0.249,"hi":0.281},
{"p":"OR","g":"g","f":13,"m":0.245,"lo":0.229,"hi":0.261},
{"p":"OR","g":"g","f":13.5,"m":0.232,"lo":0.216,"hi":0.248},
{"p":"OR","g":"g","f":14,"m":0.219,"lo":0.203,"hi":0.235},
{"p":"OR","g":"g","f":14.5,"m":0.205,"lo":0.189,"hi":0.221},
{"p":"OR","g":"g","f":15,"m":0.186,"lo":0.170,"hi":0.202}
]},
"spacing":8.5,
"hconcat":[
 {"width":30,"height":796,"data":{"values":[{"t":"Power (arbitrary units)"}]},"mark":{"type":"text","angle":270,"font":"Open Sans","fontWeight":"bold","fontSize":23,"baseline":"middle","align":"center","color":"#000000"},"encoding":{"text":{"field":"t"}}},
 {"spacing":6.5,"hconcat":[
 {"spacing":-20.7,"hconcat":[
  {"spacing":11,"vconcat":[
   {"width":200,"height":100,"data":{"values":[{"t":"L"}]},"mark":{"type":"text","font":"Lato","fontWeight":900,"fontSize":112,"baseline":"alphabetic","align":"center","dx":6.4,"dy":40,"color":"#000000"},"encoding":{"text":{"field":"t"}}},
   {"spacing":30.15,"vconcat":[
    {"width":215,"height":210,"title":{"text":"Temporal","color":"#00A650","offset":-6,"dx":0},"data":{"name":"d"},"transform":[{"filter":"datum.p=='TL'"}],
     "encoding":{"x":{"field":"f","type":"quantitative","title":null,"scale":{"domain":[3,15],"nice":false,"zero":false},"axis":{"values":[5,10],"format":"~g","labelFlush":false,"labelOverlap":false}}},
     "layer":[
      {"transform":[{"filter":"datum.g=='b'"}],"mark":{"type":"area","color":"#1010f0","opacity":0.55},"encoding":{"y":{"field":"lo","type":"quantitative","title":null,"scale":{"domain":[0.1,0.45],"nice":false,"zero":false},"axis":{"values":[0.1,0.2,0.3,0.4],"format":"~g","labelOverlap":false}},"y2":{"field":"hi"}}},
      {"transform":[{"filter":"datum.g=='b'"}],"mark":{"type":"line","color":"#0d0de8"},"encoding":{"y":{"field":"m","type":"quantitative","title":null,"scale":{"domain":[0.1,0.45],"nice":false,"zero":false},"axis":{"values":[0.1,0.2,0.3,0.4],"format":"~g","labelOverlap":false}}}},
      {"transform":[{"filter":"datum.g=='g'"}],"mark":{"type":"area","color":"#33dd33","opacity":0.45},"encoding":{"y":{"field":"lo","type":"quantitative","title":null,"scale":{"domain":[0.1,0.45],"nice":false,"zero":false},"axis":{"values":[0.1,0.2,0.3,0.4],"format":"~g","labelOverlap":false}},"y2":{"field":"hi"}}},
      {"transform":[{"filter":"datum.g=='g'"}],"mark":{"type":"line","color":"#0b9a1a"},"encoding":{"y":{"field":"m","type":"quantitative","title":null,"scale":{"domain":[0.1,0.45],"nice":false,"zero":false},"axis":{"values":[0.1,0.2,0.3,0.4],"format":"~g","labelOverlap":false}}}}
     ]},
    {"width":211,"height":206,"title":{"text":"Parietal","color":"#00B0F0","offset":-17,"dx":-14},"data":{"name":"d"},"transform":[{"filter":"datum.p=='PL'"}],
     "encoding":{"x":{"field":"f","type":"quantitative","title":null,"scale":{"domain":[3,15],"nice":false,"zero":false},"axis":{"values":[5,10,15],"format":"~g","labelFlush":false,"labelOverlap":false}}},
     "layer":[
      {"transform":[{"filter":"datum.g=='b'"}],"mark":{"type":"area","color":"#1010f0","opacity":0.55},"encoding":{"y":{"field":"lo","type":"quantitative","title":null,"scale":{"domain":[0.1,0.6],"nice":false,"zero":false},"axis":{"values":[0.1,0.2,0.3,0.4,0.5,0.6],"format":"~g","labelOverlap":false}},"y2":{"field":"hi"}}},
      {"transform":[{"filter":"datum.g=='b'"}],"mark":{"type":"line","color":"#0d0de8"},"encoding":{"y":{"field":"m","type":"quantitative","title":null,"scale":{"domain":[0.1,0.6],"nice":false,"zero":false},"axis":{"values":[0.1,0.2,0.3,0.4,0.5,0.6],"format":"~g","labelOverlap":false}}}},
      {"transform":[{"filter":"datum.g=='g'"}],"mark":{"type":"area","color":"#33dd33","opacity":0.45},"encoding":{"y":{"field":"lo","type":"quantitative","title":null,"scale":{"domain":[0.1,0.6],"nice":false,"zero":false},"axis":{"values":[0.1,0.2,0.3,0.4,0.5,0.6],"format":"~g","labelOverlap":false}},"y2":{"field":"hi"}}},
      {"transform":[{"filter":"datum.g=='g'"}],"mark":{"type":"line","color":"#0b9a1a"},"encoding":{"y":{"field":"m","type":"quantitative","title":null,"scale":{"domain":[0.1,0.6],"nice":false,"zero":false},"axis":{"values":[0.1,0.2,0.3,0.4,0.5,0.6],"format":"~g","labelOverlap":false}}}}
     ]}
   ]}
  ]},
  {"spacing":12,"vconcat":[
   {"width":10,"height":1,"data":{"values":[]},"mark":"point"},
   {"spacing":69.15,"vconcat":[
    {"width":218,"height":210,"title":{"text":"Frontal","color":"#FF0000","offset":-38,"dx":8},"data":{"name":"d"},"transform":[{"filter":"datum.p=='FL'"}],
     "encoding":{"x":{"field":"f","type":"quantitative","title":null,"scale":{"domain":[3,15],"nice":false,"zero":false},"axis":{"values":[5,10,15],"format":"~g","labelFlush":false,"labelOverlap":false}}},
     "layer":[
      {"transform":[{"filter":"datum.g=='b'"}],"mark":{"type":"area","color":"#1010f0","opacity":0.55},"encoding":{"y":{"field":"lo","type":"quantitative","title":null,"scale":{"domain":[0.1,0.4],"nice":false,"zero":false},"axis":{"values":[0.1,0.2,0.3,0.4],"format":"~g","labelOverlap":false}},"y2":{"field":"hi"}}},
      {"transform":[{"filter":"datum.g=='b'"}],"mark":{"type":"line","color":"#0d0de8"},"encoding":{"y":{"field":"m","type":"quantitative","title":null,"scale":{"domain":[0.1,0.4],"nice":false,"zero":false},"axis":{"values":[0.1,0.2,0.3,0.4],"format":"~g","labelOverlap":false}}}},
      {"transform":[{"filter":"datum.g=='g'"}],"mark":{"type":"area","color":"#33dd33","opacity":0.45},"encoding":{"y":{"field":"lo","type":"quantitative","title":null,"scale":{"domain":[0.1,0.4],"nice":false,"zero":false},"axis":{"values":[0.1,0.2,0.3,0.4],"format":"~g","labelOverlap":false}},"y2":{"field":"hi"}}},
      {"transform":[{"filter":"datum.g=='g'"}],"mark":{"type":"line","color":"#0b9a1a"},"encoding":{"y":{"field":"m","type":"quantitative","title":null,"scale":{"domain":[0.1,0.4],"nice":false,"zero":false},"axis":{"values":[0.1,0.2,0.3,0.4],"format":"~g","labelOverlap":false}}}}
     ]},
    {"spacing":22.15,"vconcat":[
     {"width":213,"height":204,"title":{"text":"Subcortical","color":"#7030A0","offset":9,"dx":5},"data":{"name":"d"},"transform":[{"filter":"datum.p=='SL'"}],
      "encoding":{"x":{"field":"f","type":"quantitative","title":null,"scale":{"domain":[3,15],"nice":false,"zero":false},"axis":{"values":[5,10,15],"format":"~g","labelFlush":false,"labelOverlap":false}}},
      "layer":[
       {"transform":[{"filter":"datum.g=='b'"}],"mark":{"type":"area","color":"#1010f0","opacity":0.55},"encoding":{"y":{"field":"lo","type":"quantitative","title":null,"scale":{"domain":[0,0.35],"nice":false,"zero":false},"axis":{"values":[0,0.1,0.2,0.3],"format":"~g","labelOverlap":false}},"y2":{"field":"hi"}}},
       {"transform":[{"filter":"datum.g=='b'"}],"mark":{"type":"line","color":"#0d0de8"},"encoding":{"y":{"field":"m","type":"quantitative","title":null,"scale":{"domain":[0,0.35],"nice":false,"zero":false},"axis":{"values":[0,0.1,0.2,0.3],"format":"~g","labelOverlap":false}}}},
       {"transform":[{"filter":"datum.g=='g'"}],"mark":{"type":"area","color":"#33dd33","opacity":0.45},"encoding":{"y":{"field":"lo","type":"quantitative","title":null,"scale":{"domain":[0,0.35],"nice":false,"zero":false},"axis":{"values":[0,0.1,0.2,0.3],"format":"~g","labelOverlap":false}},"y2":{"field":"hi"}}},
       {"transform":[{"filter":"datum.g=='g'"}],"mark":{"type":"line","color":"#0b9a1a"},"encoding":{"y":{"field":"m","type":"quantitative","title":null,"scale":{"domain":[0,0.35],"nice":false,"zero":false},"axis":{"values":[0,0.1,0.2,0.3],"format":"~g","labelOverlap":false}}}}
      ]},
     {"width":213,"height":205,"title":{"text":"Occipital","color":"#1F4A7C","offset":14.5,"dx":6},"data":{"name":"d"},"transform":[{"filter":"datum.p=='OL'"}],
      "encoding":{"x":{"field":"f","type":"quantitative","title":null,"scale":{"domain":[3,15],"nice":false,"zero":false},"axis":{"values":[5,10,15],"format":"~g","labelFlush":false,"labelOverlap":false}}},
      "layer":[
       {"transform":[{"filter":"datum.g=='b'"}],"mark":{"type":"area","color":"#1010f0","opacity":0.55},"encoding":{"y":{"field":"lo","type":"quantitative","title":null,"scale":{"domain":[0.1,0.9],"nice":false,"zero":false},"axis":{"values":[0.2,0.4,0.6,0.8],"format":"~g","labelOverlap":false}},"y2":{"field":"hi"}}},
       {"transform":[{"filter":"datum.g=='b'"}],"mark":{"type":"line","color":"#0d0de8"},"encoding":{"y":{"field":"m","type":"quantitative","title":null,"scale":{"domain":[0.1,0.9],"nice":false,"zero":false},"axis":{"values":[0.2,0.4,0.6,0.8],"format":"~g","labelOverlap":false}}}},
       {"transform":[{"filter":"datum.g=='g'"}],"mark":{"type":"area","color":"#33dd33","opacity":0.45},"encoding":{"y":{"field":"lo","type":"quantitative","title":null,"scale":{"domain":[0.1,0.9],"nice":false,"zero":false},"axis":{"values":[0.2,0.4,0.6,0.8],"format":"~g","labelOverlap":false}},"y2":{"field":"hi"}}},
       {"transform":[{"filter":"datum.g=='g'"}],"mark":{"type":"line","color":"#0b9a1a"},"encoding":{"y":{"field":"m","type":"quantitative","title":null,"scale":{"domain":[0.1,0.9],"nice":false,"zero":false},"axis":{"values":[0.2,0.4,0.6,0.8],"format":"~g","labelOverlap":false}}}}
      ]}
    ]}
   ]}
  ]}
 ]},
 {"spacing":2.3,"hconcat":[
  {"spacing":16,"vconcat":[
   {"width":10,"height":1,"data":{"values":[]},"mark":"point"},
   {"spacing":64.15,"vconcat":[
    {"width":217,"height":216,"title":{"text":"Frontal","color":"#FF0000","offset":-34,"dx":-10},"data":{"name":"d"},"transform":[{"filter":"datum.p=='FR'"}],
     "encoding":{"x":{"field":"f","type":"quantitative","title":null,"scale":{"domain":[3,15],"nice":false,"zero":false},"axis":{"values":[5,10,15],"format":"~g","labelFlush":false,"labelOverlap":false}}},
     "layer":[
      {"transform":[{"filter":"datum.g=='b'"}],"mark":{"type":"area","color":"#1010f0","opacity":0.55},"encoding":{"y":{"field":"lo","type":"quantitative","title":null,"scale":{"domain":[0.1,0.4057],"nice":false,"zero":false},"axis":{"values":[0.1,0.2,0.3,0.4],"format":"~g","labelOverlap":false}},"y2":{"field":"hi"}}},
      {"transform":[{"filter":"datum.g=='b'"}],"mark":{"type":"line","color":"#0d0de8"},"encoding":{"y":{"field":"m","type":"quantitative","title":null,"scale":{"domain":[0.1,0.4057],"nice":false,"zero":false},"axis":{"values":[0.1,0.2,0.3,0.4],"format":"~g","labelOverlap":false}}}},
      {"transform":[{"filter":"datum.g=='g'"}],"mark":{"type":"area","color":"#33dd33","opacity":0.45},"encoding":{"y":{"field":"lo","type":"quantitative","title":null,"scale":{"domain":[0.1,0.4057],"nice":false,"zero":false},"axis":{"values":[0.1,0.2,0.3,0.4],"format":"~g","labelOverlap":false}},"y2":{"field":"hi"}}},
      {"transform":[{"filter":"datum.g=='g'"}],"mark":{"type":"line","color":"#0b9a1a"},"encoding":{"y":{"field":"m","type":"quantitative","title":null,"scale":{"domain":[0.1,0.4057],"nice":false,"zero":false},"axis":{"values":[0.1,0.2,0.3,0.4],"format":"~g","labelOverlap":false}}}}
     ]},
    {"spacing":21.15,"vconcat":[
     {"width":214,"height":204,"title":{"text":"Subcortical","color":"#7030A0","offset":8,"dx":5},"data":{"name":"d"},"transform":[{"filter":"datum.p=='SR'"}],
      "encoding":{"x":{"field":"f","type":"quantitative","title":null,"scale":{"domain":[3,15],"nice":false,"zero":false},"axis":{"values":[5,10,15],"format":"~g","labelFlush":false,"labelOverlap":false}}},
      "layer":[
       {"transform":[{"filter":"datum.g=='b'"}],"mark":{"type":"area","color":"#1010f0","opacity":0.55},"encoding":{"y":{"field":"lo","type":"quantitative","title":null,"scale":{"domain":[0,0.35],"nice":false,"zero":false},"axis":{"values":[0,0.1,0.2,0.3],"format":"~g","labelOverlap":false}},"y2":{"field":"hi"}}},
       {"transform":[{"filter":"datum.g=='b'"}],"mark":{"type":"line","color":"#0d0de8"},"encoding":{"y":{"field":"m","type":"quantitative","title":null,"scale":{"domain":[0,0.35],"nice":false,"zero":false},"axis":{"values":[0,0.1,0.2,0.3],"format":"~g","labelOverlap":false}}}},
       {"transform":[{"filter":"datum.g=='g'"}],"mark":{"type":"area","color":"#33dd33","opacity":0.45},"encoding":{"y":{"field":"lo","type":"quantitative","title":null,"scale":{"domain":[0,0.35],"nice":false,"zero":false},"axis":{"values":[0,0.1,0.2,0.3],"format":"~g","labelOverlap":false}},"y2":{"field":"hi"}}},
       {"transform":[{"filter":"datum.g=='g'"}],"mark":{"type":"line","color":"#0b9a1a"},"encoding":{"y":{"field":"m","type":"quantitative","title":null,"scale":{"domain":[0,0.35],"nice":false,"zero":false},"axis":{"values":[0,0.1,0.2,0.3],"format":"~g","labelOverlap":false}}}}
      ]},
     {"width":213,"height":205,"title":{"text":"Occipital","color":"#1F4A7C","offset":18,"dx":-5},"data":{"name":"d"},"transform":[{"filter":"datum.p=='OR'"}],
      "encoding":{"x":{"field":"f","type":"quantitative","title":null,"scale":{"domain":[3,15],"nice":false,"zero":false},"axis":{"values":[5,10,15],"format":"~g","labelFlush":false,"labelOverlap":false}}},
      "layer":[
       {"transform":[{"filter":"datum.g=='b'"}],"mark":{"type":"area","color":"#1010f0","opacity":0.55},"encoding":{"y":{"field":"lo","type":"quantitative","title":null,"scale":{"domain":[0.1,0.9],"nice":false,"zero":false},"axis":{"values":[0.2,0.4,0.6,0.8],"format":"~g","labelOverlap":false}},"y2":{"field":"hi"}}},
       {"transform":[{"filter":"datum.g=='b'"}],"mark":{"type":"line","color":"#0d0de8"},"encoding":{"y":{"field":"m","type":"quantitative","title":null,"scale":{"domain":[0.1,0.9],"nice":false,"zero":false},"axis":{"values":[0.2,0.4,0.6,0.8],"format":"~g","labelOverlap":false}}}},
       {"transform":[{"filter":"datum.g=='g'"}],"mark":{"type":"area","color":"#33dd33","opacity":0.45},"encoding":{"y":{"field":"lo","type":"quantitative","title":null,"scale":{"domain":[0.1,0.9],"nice":false,"zero":false},"axis":{"values":[0.2,0.4,0.6,0.8],"format":"~g","labelOverlap":false}},"y2":{"field":"hi"}}},
       {"transform":[{"filter":"datum.g=='g'"}],"mark":{"type":"line","color":"#0b9a1a"},"encoding":{"y":{"field":"m","type":"quantitative","title":null,"scale":{"domain":[0.1,0.9],"nice":false,"zero":false},"axis":{"values":[0.2,0.4,0.6,0.8],"format":"~g","labelOverlap":false}}}}
      ]}
    ]}
   ]}
  ]},
  {"spacing":4,"vconcat":[
   {"width":100,"height":100,"data":{"values":[{"t":"R"}]},"mark":{"type":"text","font":"Lato","fontWeight":900,"fontSize":112,"baseline":"alphabetic","align":"center","dx":38.4,"dy":45,"color":"#000000"},"encoding":{"text":{"field":"t"}}},
   {"spacing":30.85,"vconcat":[
    {"width":212,"height":208,"title":{"text":"Temporal","color":"#00A650","offset":-0.7,"dx":-13},"data":{"name":"d"},"transform":[{"filter":"datum.p=='TR'"}],
     "encoding":{"x":{"field":"f","type":"quantitative","title":null,"scale":{"domain":[3,15],"nice":false,"zero":false},"axis":{"values":[5,10,15],"format":"~g","labelFlush":false,"labelOverlap":false}}},
     "layer":[
      {"transform":[{"filter":"datum.g=='b'"}],"mark":{"type":"area","color":"#1010f0","opacity":0.55},"encoding":{"y":{"field":"lo","type":"quantitative","title":null,"scale":{"domain":[0.1,0.45],"nice":false,"zero":false},"axis":{"values":[0.1,0.2,0.3,0.4],"format":"~g","labelOverlap":false}},"y2":{"field":"hi"}}},
      {"transform":[{"filter":"datum.g=='b'"}],"mark":{"type":"line","color":"#0d0de8"},"encoding":{"y":{"field":"m","type":"quantitative","title":null,"scale":{"domain":[0.1,0.45],"nice":false,"zero":false},"axis":{"values":[0.1,0.2,0.3,0.4],"format":"~g","labelOverlap":false}}}},
      {"transform":[{"filter":"datum.g=='g'"}],"mark":{"type":"area","color":"#33dd33","opacity":0.45},"encoding":{"y":{"field":"lo","type":"quantitative","title":null,"scale":{"domain":[0.1,0.45],"nice":false,"zero":false},"axis":{"values":[0.1,0.2,0.3,0.4],"format":"~g","labelOverlap":false}},"y2":{"field":"hi"}}},
      {"transform":[{"filter":"datum.g=='g'"}],"mark":{"type":"line","color":"#0b9a1a"},"encoding":{"y":{"field":"m","type":"quantitative","title":null,"scale":{"domain":[0.1,0.45],"nice":false,"zero":false},"axis":{"values":[0.1,0.2,0.3,0.4],"format":"~g","labelOverlap":false}}}}
     ]},
    {"width":212,"height":206,"title":{"text":"Parietal","color":"#00B0F0","offset":-19,"dx":-5},"data":{"name":"d"},"transform":[{"filter":"datum.p=='PR'"}],
     "encoding":{"x":{"field":"f","type":"quantitative","title":null,"scale":{"domain":[3,15],"nice":false,"zero":false},"axis":{"values":[5,10,15],"format":"~g","labelFlush":false,"labelOverlap":false}}},
     "layer":[
      {"transform":[{"filter":"datum.g=='b'"}],"mark":{"type":"area","color":"#1010f0","opacity":0.55},"encoding":{"y":{"field":"lo","type":"quantitative","title":null,"scale":{"domain":[0.1,0.6],"nice":false,"zero":false},"axis":{"values":[0.1,0.2,0.3,0.4,0.5,0.6],"format":"~g","labelOverlap":false}},"y2":{"field":"hi"}}},
      {"transform":[{"filter":"datum.g=='b'"}],"mark":{"type":"line","color":"#0d0de8"},"encoding":{"y":{"field":"m","type":"quantitative","title":null,"scale":{"domain":[0.1,0.6],"nice":false,"zero":false},"axis":{"values":[0.1,0.2,0.3,0.4,0.5,0.6],"format":"~g","labelOverlap":false}}}},
      {"transform":[{"filter":"datum.g=='g'"}],"mark":{"type":"area","color":"#33dd33","opacity":0.45},"encoding":{"y":{"field":"lo","type":"quantitative","title":null,"scale":{"domain":[0.1,0.6],"nice":false,"zero":false},"axis":{"values":[0.1,0.2,0.3,0.4,0.5,0.6],"format":"~g","labelOverlap":false}},"y2":{"field":"hi"}}},
      {"transform":[{"filter":"datum.g=='g'"}],"mark":{"type":"line","color":"#0b9a1a"},"encoding":{"y":{"field":"m","type":"quantitative","title":null,"scale":{"domain":[0.1,0.6],"nice":false,"zero":false},"axis":{"values":[0.1,0.2,0.3,0.4,0.5,0.6],"format":"~g","labelOverlap":false}}}}
     ]}
   ]}
  ]}
 ]}
 ]}
]
}
